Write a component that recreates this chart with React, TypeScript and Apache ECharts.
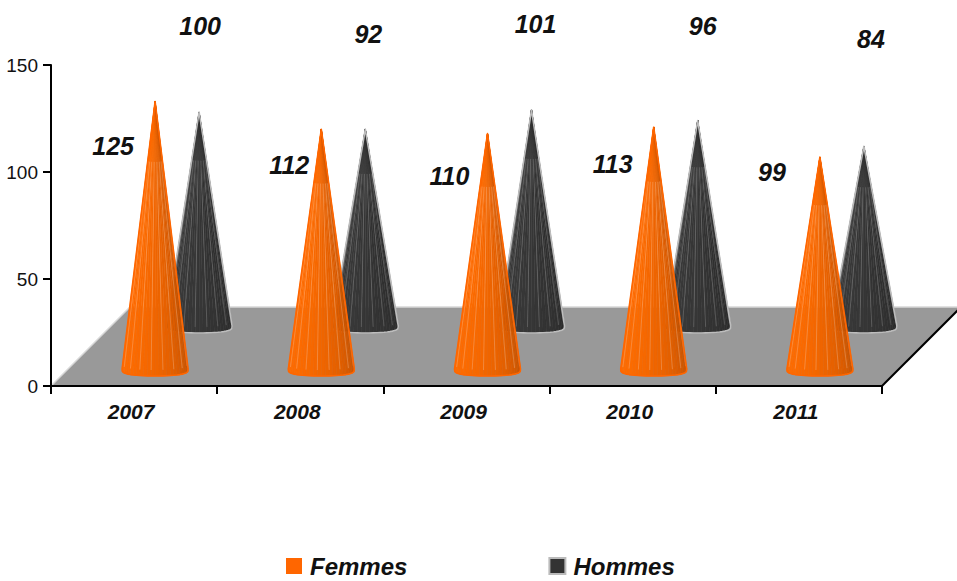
import React, { useEffect, useRef } from "react";
import * as echarts from "echarts";

const categories = ["2007", "2008", "2009", "2010", "2011"];
const femmes = [125, 112, 110, 113, 99];
const hommes = [100, 92, 101, 96, 84];
const yTicks = [0, 50, 100, 150];

// label placement relative to each cone's apex
const femmesLabelDx = [-42, -32, -38, -41, -48];
const femmesLabelDy = [44, 36, 42, 37, 15];
const hommesLabelDx = [1, 3, 4, 5, 7];
const hommesLabelDy = [-86, -95, -86, -95, -107];

const FONT = '"Liberation Sans", Arial, sans-serif';

function mix(a: number[], b: number[], t: number) {
  const c = a.map((v, i) => Math.round(v + (b[i] - v) * t));
  return `rgb(${c[0]},${c[1]},${c[2]})`;
}

function coneRenderer(opts: {
  dx: number;
  dy: number;
  left: number[];
  right: number[];
  stroke: string;
  streak: string;
  labelDx: number[];
  labelDy: number[];
}) {
  return (params: any, api: any) => {
    const i = api.value(0);
    const p = api.coord([i, api.value(1)]);
    const cx = p[0] + opts.dx;
    const apexY = p[1] + opts.dy;
    const base = api.coord([i, 0])[1] + opts.dy;
    const rx = 33;
    const ry = 7;
    const N = 26;
    const pts: number[][] = [];
    for (let k = 0; k <= N; k++) {
      const th = Math.PI - (Math.PI * k) / N;
      const s = Math.sin(th);
      pts.push([cx + rx * Math.cos(th), base + ry * Math.pow(Math.max(s, 0), 0.55)]);
    }
    const apex = [cx, apexY];
    const children: any[] = [];
    for (let k = 0; k < N; k++) {
      const t = k / (N - 1);
      const col = mix(opts.left, opts.right, t * t);
      children.push({
        type: "polygon",
        shape: { points: [apex, pts[k], pts[k + 1]] },
        style: { fill: col, stroke: col, lineWidth: 0.5 },
      });
    }
    for (let k = 3; k < N; k += 3) {
      const q = pts[k];
      children.push({
        type: "line",
        shape: {
          x1: q[0],
          y1: q[1] - 6,
          x2: q[0] + (apex[0] - q[0]) * 0.78,
          y2: q[1] + (apex[1] - q[1]) * 0.78,
        },
        style: { stroke: opts.streak, lineWidth: 0.8 },
      });
    }
    children.push({
      type: "polygon",
      shape: { points: [apex, ...pts] },
      style: { fill: "none", stroke: opts.stroke, lineWidth: 1.6, lineJoin: "round" },
    });
    children.push({
      type: "text",
      style: {
        text: String(api.value(1)),
        x: cx + opts.labelDx[i],
        y: apexY + opts.labelDy[i],
        align: "center",
        verticalAlign: "middle",
        font: `italic bold 25px ${FONT}`,
        fill: "#111",
      },
    });
    return { type: "group", children };
  };
}

function floorRenderer(params: any) {
  const c = params.coordSys;
  const l = c.x;
  const r = c.x + c.width;
  const b = c.y + c.height;
  const d = 79;
  const top = b - d;
  return {
    type: "group",
    children: [
      {
        type: "polygon",
        shape: { points: [[l, b], [r, b], [r + d, top], [l + d, top]] },
        style: { fill: "#999999" },
      },
      {
        type: "polyline",
        shape: { points: [[l, b], [l + d, top], [r + d, top]] },
        style: { fill: "none", stroke: "#d8d8d8", lineWidth: 1.5 },
      },
      {
        type: "line",
        shape: { x1: r, y1: b, x2: r + d, y2: top },
        style: { stroke: "#000", lineWidth: 2 },
      },
    ],
  };
}

export default function App() {
  const ref = useRef<HTMLDivElement>(null);
  useEffect(() => {
    const chart = echarts.init(ref.current!, undefined, { renderer: "svg" });
    chart.setOption({
      animation: false,
      backgroundColor: "#fff",
      grid: { left: 51, right: 75, top: 65, bottom: 195 },
      legend: {
        left: 286,
        top: 551,
        padding: 0,
        itemWidth: 16,
        itemHeight: 16,
        itemGap: 141,
        textStyle: { fontFamily: FONT, fontStyle: "italic", fontWeight: "bold", fontSize: 24, lineHeight: 30, color: "#111", padding: [0, 0, 0, 3] },
        data: [
          { name: "Femmes", icon: "rect", itemStyle: { color: "#ff6600" } },
          { name: "Hommes", icon: "rect", itemStyle: { color: "#333333", borderColor: "#bbbbbb", borderWidth: 2 } },
        ],
      },
      xAxis: {
        type: "category",
        data: categories,
        z: 10,
        axisLine: { lineStyle: { color: "#000", width: 2 } },
        axisTick: { show: true, alignWithLabel: false, length: 8, lineStyle: { color: "#000", width: 2 } },
        axisLabel: { fontFamily: FONT, fontStyle: "italic", fontWeight: "bold", fontSize: 21, color: "#111", margin: 15, padding: [0, 6, 0, 0] },
      },
      yAxis: {
        type: "value",
        min: yTicks[0],
        max: yTicks[yTicks.length - 1],
        interval: yTicks[1] - yTicks[0],
        z: 10,
        splitLine: { show: false },
        axisLine: { show: true, lineStyle: { color: "#000", width: 2 } },
        axisTick: { show: true, length: 8, lineStyle: { color: "#000", width: 2 } },
        axisLabel: { fontFamily: FONT, fontSize: 19, color: "#111", margin: 13 },
      },
      series: [
        {
          type: "custom",
          name: "floor",
          silent: true,
          z: 1,
          clip: false,
          data: [[0, 0]],
          encode: { x: 0, y: 1 },
          renderItem: floorRenderer,
        },
        {
          type: "custom",
          name: "Hommes",
          z: 2,
          clip: false,
          itemStyle: { color: "#333333" },
          data: hommes.map((v, i) => [i, v]),
          encode: { x: 0, y: 1 },
          renderItem: coneRenderer({
            dx: 65,
            dy: -60,
            left: [58, 58, 58],
            right: [42, 42, 42],
            stroke: "#bdbdbd",
            streak: "rgba(200,200,200,0.3)",
            labelDx: hommesLabelDx,
            labelDy: hommesLabelDy,
          }),
        },
        {
          type: "custom",
          name: "Femmes",
          z: 3,
          clip: false,
          itemStyle: { color: "#ff6600" },
          data: femmes.map((v, i) => [i, v]),
          encode: { x: 0, y: 1 },
          renderItem: coneRenderer({
            dx: 21,
            dy: -17,
            left: [255, 108, 0],
            right: [196, 82, 0],
            stroke: "#ff6600",
            streak: "rgba(255,205,170,0.4)",
            labelDx: femmesLabelDx,
            labelDy: femmesLabelDy,
          }),
        },
      ],
    });
    return () => chart.dispose();
  }, []);
  return <div ref={ref} style={{ position: "absolute", left: 0, top: 0, width: 957, height: 581 }} />;
}
